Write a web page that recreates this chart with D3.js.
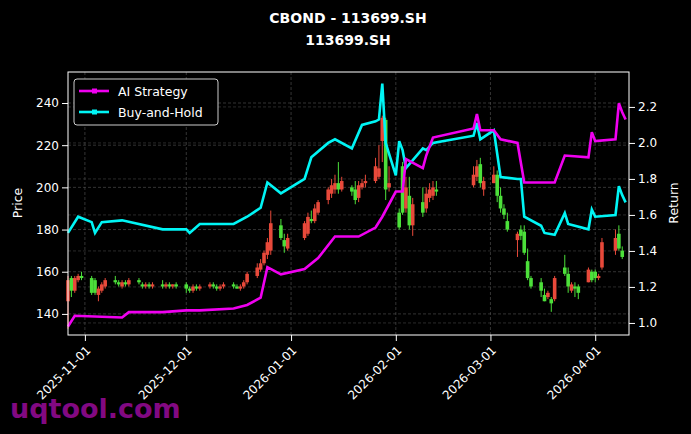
<!DOCTYPE html>
<html><head><meta charset="utf-8">
<script src="https://cdn.jsdelivr.net/npm/d3@7"></script>
<style>body{margin:0;background:#000}svg{display:block}</style></head>
<body><svg width="691" height="434"></svg>
<script>
const dates=["2025-10-27","2025-10-28","2025-10-29","2025-10-30","2025-10-31","2025-11-03","2025-11-04","2025-11-05","2025-11-06","2025-11-07","2025-11-10","2025-11-11","2025-11-12","2025-11-13","2025-11-14","2025-11-17","2025-11-18","2025-11-19","2025-11-20","2025-11-21","2025-11-24","2025-11-25","2025-11-26","2025-11-27","2025-11-28","2025-12-01","2025-12-02","2025-12-03","2025-12-04","2025-12-05","2025-12-08","2025-12-09","2025-12-10","2025-12-11","2025-12-12","2025-12-15","2025-12-16","2025-12-17","2025-12-18","2025-12-19","2025-12-22","2025-12-23","2025-12-24","2025-12-25","2025-12-26","2025-12-29","2025-12-30","2025-12-31","2026-01-05","2026-01-06","2026-01-07","2026-01-08","2026-01-09","2026-01-12","2026-01-13","2026-01-14","2026-01-15","2026-01-16","2026-01-19","2026-01-20","2026-01-21","2026-01-22","2026-01-23","2026-01-26","2026-01-27","2026-01-28","2026-01-29","2026-01-30","2026-02-02","2026-02-03","2026-02-04","2026-02-05","2026-02-06","2026-02-09","2026-02-10","2026-02-11","2026-02-12","2026-02-13","2026-02-24","2026-02-25","2026-02-26","2026-02-27","2026-03-02","2026-03-03","2026-03-04","2026-03-05","2026-03-06","2026-03-09","2026-03-10","2026-03-11","2026-03-12","2026-03-13","2026-03-16","2026-03-17","2026-03-18","2026-03-19","2026-03-20","2026-03-23","2026-03-24","2026-03-25","2026-03-26","2026-03-27","2026-03-30","2026-03-31","2026-04-01","2026-04-02","2026-04-03","2026-04-07","2026-04-08","2026-04-09"];
const open =[146,157,151,156,158,157,156,149,151,153,156,155,153,155,154,156,154,153,154,153,154,153,154,153,154,154,152,151,153,152,153,154,153,152,153,154,153,152,153,155,158,161,164,168,170,182,175,171,176,178,185,184,188,194,197,199,202,199,200,199,195,200,202,203,205,222,232,200,188,210,190,196,182,193,190,195,196,199,201,205,211,199,202,206,196,190,184,175,180,179,165,157,155,149,148,147,147,162,159,151,153,153,155,160,160,157,162,170,178,170];
const close=[156,151,157,158,157,150,150,152,154,156,155,154,155,154,156,155,153,154,153,154,153,154,153,154,153,152,151,153,152,153,154,153,152,153,154,153,152,153,155,159,162,164,169,174,183,176,172,176,183,186,184,190,193,199,201,202,199,203,198,194,201,202,203,210,209,233,199,202,181,188,200,182,192,188,197,199,200,198,206,210,202,203,206,196,190,187,180,178,177,169,157,153,151,146,150,145,157,159,153,154,152,150,161,156,157,158,174,176,171,167];
const high =[158,158,158,159,160,158,157,153,155,157,158,156,156,156,157,157,155,155,155,155,156,155,155,154,155,155,153,154,154,154,155,155,154,154,155,155,154,154,156,160,164,166,170,176,189,185,178,178,184,188,189,192,194,200,204,206,212,205,201,203,203,204,206,214,220,234,233,210,190,212,205,205,195,200,200,202,203,203,210,213,214,205,210,208,200,192,188,179,182,182,171,158,157,152,151,148,158,168,162,155,155,154,162,161,161,159,176,180,182,172];
const low  =[133,148,150,155,156,149,149,146,150,152,154,153,152,153,153,154,152,152,152,152,152,152,152,152,152,150,150,150,151,151,152,152,151,151,152,152,152,151,152,154,157,160,163,166,168,175,169,170,175,177,183,183,187,192,195,197,197,198,196,192,193,199,200,202,204,212,194,198,180,187,188,180,177,186,188,193,194,196,200,203,200,196,202,193,188,185,179,167,175,168,156,152,148,146,147,141,146,158,150,150,148,147,155,155,155,156,161,168,170,166];

const aiDates=["2025-10-27","2025-10-29","2025-11-12","2025-11-14","2025-11-24","2025-12-01","2025-12-05","2025-12-15","2025-12-19","2025-12-23","2025-12-25","2025-12-29","2026-01-05","2026-01-09","2026-01-14","2026-01-21","2026-01-26","2026-01-28","2026-02-01","2026-02-03","2026-02-04","2026-02-09","2026-02-10","2026-02-12","2026-02-24","2026-02-25","2026-02-26","2026-03-02","2026-03-04","2026-03-09","2026-03-11","2026-03-20","2026-03-23","2026-03-30","2026-03-31","2026-04-01","2026-04-07","2026-04-08","2026-04-09","2026-04-10"];
const aiVals =[0.98,1.04,1.03,1.06,1.06,1.07,1.07,1.08,1.10,1.14,1.31,1.27,1.30,1.36,1.48,1.48,1.53,1.59,1.73,1.73,1.91,1.86,1.93,2.03,2.08,2.16,2.07,2.07,2.02,2.00,1.78,1.78,1.93,1.92,2.06,2.01,2.02,2.22,2.17,2.13];
const bhDates=["2025-10-27","2025-10-30","2025-11-03","2025-11-04","2025-11-06","2025-11-12","2025-11-24","2025-12-01","2025-12-02","2025-12-05","2025-12-15","2025-12-19","2025-12-23","2025-12-25","2025-12-29","2026-01-05","2026-01-07","2026-01-12","2026-01-14","2026-01-19","2026-01-22","2026-01-26","2026-01-27","2026-01-28","2026-01-29","2026-02-01","2026-02-02","2026-02-03","2026-02-04","2026-02-09","2026-02-10","2026-02-12","2026-02-24","2026-02-25","2026-02-26","2026-03-02","2026-03-04","2026-03-09","2026-03-10","2026-03-11","2026-03-16","2026-03-17","2026-03-20","2026-03-23","2026-03-24","2026-03-30","2026-03-31","2026-04-01","2026-04-07","2026-04-08","2026-04-09","2026-04-10"];
const bhVals =[1.50,1.59,1.56,1.50,1.56,1.57,1.52,1.52,1.50,1.55,1.55,1.59,1.64,1.78,1.72,1.80,1.92,2.00,2.02,1.97,2.10,2.12,2.13,2.33,2.00,1.82,2.01,1.96,1.86,1.97,1.96,2.00,2.04,2.11,2.02,2.07,1.81,1.80,1.80,1.59,1.54,1.50,1.49,1.61,1.55,1.52,1.63,1.59,1.60,1.76,1.71,1.67];
const priceTicks=[140,160,180,200,220,240];
const retTicks=[1.0,1.2,1.4,1.6,1.8,2.0,2.2];
const dateTicks=["2025-11-01","2025-12-01","2026-01-01","2026-02-01","2026-03-01","2026-04-01"];

const P=d3.timeParse("%Y-%m-%d");
const svg=d3.select("svg");
const L=68,R=629,T=72,B=335;
const x=d3.scaleTime().domain([P("2025-10-27"),P("2026-04-11")]).range([L,R]);
const y=d3.scaleLinear().domain([130,254.7]).range([B,T]);
const y2=d3.scaleLinear().domain([0.933,2.394]).range([B,T]);
const font="DejaVu Sans, sans-serif";

svg.append("text").attr("x",348).attr("y",23).attr("text-anchor","middle").attr("fill","#fff").attr("font-family",font).attr("font-weight","bold").attr("font-size",14).text("CBOND - 113699.SH");
svg.append("text").attr("x",348).attr("y",45).attr("text-anchor","middle").attr("fill","#fff").attr("font-family",font).attr("font-weight","bold").attr("font-size",14).text("113699.SH");

const g=svg.append("g");
g.selectAll(".gx").data(dateTicks).join("line").attr("x1",d=>x(P(d))).attr("x2",d=>x(P(d))).attr("y1",T).attr("y2",B).attr("stroke","#555").attr("stroke-dasharray","3,2").attr("stroke-width",0.6);
g.selectAll(".gy").data(priceTicks).join("line").attr("x1",L).attr("x2",R).attr("y1",d=>y(d)).attr("y2",d=>y(d)).attr("stroke","#555").attr("stroke-dasharray","3,2").attr("stroke-width",0.6);
g.selectAll(".gy2").data(retTicks).join("line").attr("x1",L).attr("x2",R).attr("y1",d=>y2(d)).attr("y2",d=>y2(d)).attr("stroke","#444").attr("stroke-dasharray","3,2").attr("stroke-width",0.6);

const idx=d3.range(dates.length);
const cg=svg.append("g");
const col=i=>close[i]>=open[i]?"#e8493a":"#4ce03a";
cg.selectAll("line").data(idx).join("line").attr("x1",i=>x(P(dates[i]))).attr("x2",i=>x(P(dates[i]))).attr("y1",i=>y(high[i])).attr("y2",i=>y(low[i])).attr("stroke",col).attr("stroke-width",1);
cg.selectAll("rect").data(idx).join("rect").attr("x",i=>x(P(dates[i]))-1.8).attr("width",3.6).attr("y",i=>y(Math.max(open[i],close[i]))).attr("height",i=>Math.max(1,Math.abs(y(open[i])-y(close[i])))).attr("fill",col);

const line=d3.line().x(d=>x(P(d[0]))).y(d=>y2(d[1]));
svg.append("path").datum(d3.zip(bhDates,bhVals)).attr("d",line).attr("fill","none").attr("stroke","#00f5f5").attr("stroke-width",2.6);
svg.append("path").datum(d3.zip(aiDates,aiVals)).attr("d",line).attr("fill","none").attr("stroke","#f000f0").attr("stroke-width",2.6);

svg.append("rect").attr("x",L).attr("y",T).attr("width",R-L).attr("height",B-T).attr("fill","none").attr("stroke","#fff").attr("stroke-width",1);

const ax=svg.append("g").attr("transform",`translate(0,${B})`).call(d3.axisBottom(x).tickValues(dateTicks.map(P)).tickFormat(d3.timeFormat("%Y-%m-%d")).tickSizeOuter(0));
ax.selectAll("text").attr("x",0).attr("y",0).attr("dy","0.35em").attr("transform","translate(3,13) rotate(-45)").attr("text-anchor","end");
const ay=svg.append("g").attr("transform",`translate(${L},0)`).call(d3.axisLeft(y).tickValues(priceTicks).tickSizeOuter(0));
const ay2=svg.append("g").attr("transform",`translate(${R},0)`).call(d3.axisRight(y2).tickValues(retTicks).tickFormat(d3.format(".1f")).tickSizeOuter(0));
[ax,ay,ay2].forEach(a=>{a.select(".domain").remove();a.selectAll("line").attr("stroke","#fff");a.selectAll("text").attr("fill","#fff").attr("font-family",font).attr("font-size",12);});

svg.append("text").attr("transform","translate(22,203) rotate(-90)").attr("text-anchor","middle").attr("fill","#fff").attr("font-family",font).attr("font-size",12.5).text("Price");
svg.append("text").attr("transform","translate(678,203) rotate(-90)").attr("text-anchor","middle").attr("fill","#fff").attr("font-family",font).attr("font-size",12.5).text("Return");

const lg=svg.append("g");
lg.append("rect").attr("x",74).attr("y",79).attr("width",144).attr("height",46).attr("rx",3).attr("fill","#000").attr("stroke","#ccc").attr("stroke-width",1);
[["AI Strategy","#f000f0"],["Buy-and-Hold","#00f5f5"]].forEach((d,i)=>{
  const yy=91+i*21;
  lg.append("line").attr("x1",79).attr("x2",109).attr("y1",yy).attr("y2",yy).attr("stroke",d[1]).attr("stroke-width",2.6);
  lg.append("rect").attr("x",92).attr("y",yy-2.5).attr("width",5).attr("height",5).attr("fill",d[1]);
  lg.append("text").attr("x",118).attr("y",yy+4.5).attr("fill","#fff").attr("font-family",font).attr("font-size",12.5).text(d[0]);
});

svg.append("text").attr("x",10).attr("y",418).attr("fill","#8a0a8a").attr("font-family",font).attr("font-weight","bold").attr("font-size",27).attr("opacity",0.95).text("uqtool.com");
</script></body></html>
